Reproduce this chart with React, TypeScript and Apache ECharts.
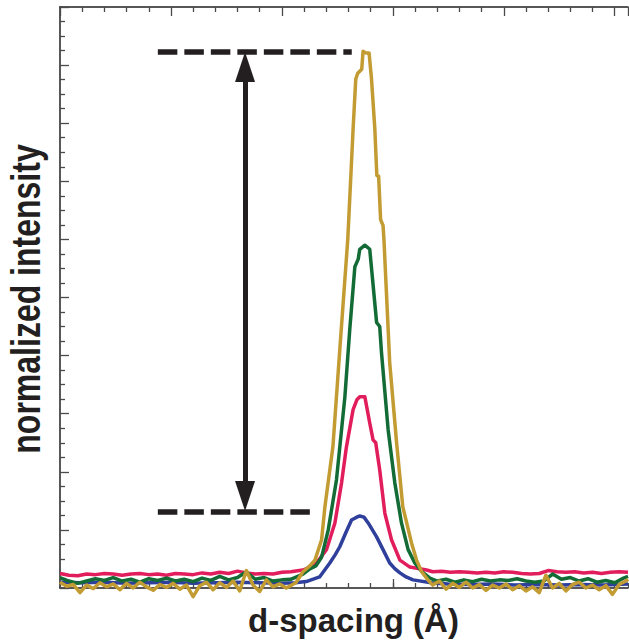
import React, { useEffect, useRef } from 'react';
import * as echarts from 'echarts';

const X_MIN = 0;
const X_MAX = 256;
const Y_MIN = 0;
const Y_MAX = 10;

const bottomLongTicks = [150, 220];

const blueData: number[][] = [
  [0, 0.1], [10, 0.09], [20, 0.1], [30, 0.08], [40, 0.09], [50, 0.1], [60, 0.08], [70, 0.09],
  [80, 0.1], [90, 0.09], [100, 0.08], [106, 0.09], [111, 0.11], [117, 0.19], [121.6, 0.43],
  [124, 0.57], [126.1, 0.71], [128.8, 0.95], [131.4, 1.17], [133.3, 1.21], [135.1, 1.24],
  [137, 1.22], [138.9, 1.12], [140.8, 1.0], [142.7, 0.88], [145.6, 0.66], [148.6, 0.43],
  [151, 0.33], [153.2, 0.26], [156, 0.19], [159.1, 0.14], [168, 0.086], [175, 0.07],
  [185, 0.06], [195, 0.07], [205, 0.05], [215, 0.06], [225, 0.05], [235, 0.06], [245, 0.05],
  [256, 0.07],
];

const redData: number[][] = [
  [0, 0.25], [4, 0.22], [8, 0.21], [12, 0.24], [16, 0.23], [20, 0.25], [24, 0.24], [28, 0.22],
  [32, 0.24], [36, 0.25], [40, 0.23], [44, 0.24], [48, 0.22], [52, 0.25], [56, 0.24], [60, 0.23],
  [64, 0.26], [68, 0.24], [72, 0.27], [76, 0.25], [80, 0.29], [84, 0.26], [88, 0.24], [92, 0.25],
  [96, 0.24], [100, 0.27], [104, 0.28], [109.5, 0.31], [112.6, 0.36], [115.6, 0.43],
  [120.1, 0.66], [123.9, 1.12], [126.9, 1.81], [129.1, 2.43], [132.1, 3.07], [133.8, 3.24],
  [135.1, 3.29], [137.4, 3.29], [139.6, 2.84], [141.1, 2.55], [142.3, 2.5], [144.1, 2.03],
  [146.4, 1.29], [149.4, 0.83], [153.2, 0.48], [157.7, 0.36], [165.2, 0.31], [168, 0.28],
  [172, 0.29], [176, 0.27], [180, 0.28], [184, 0.27], [188, 0.26], [192, 0.27], [196, 0.26],
  [200, 0.28], [204, 0.27], [208, 0.25], [212, 0.24], [216, 0.25], [220, 0.3], [224, 0.28],
  [228, 0.27], [232, 0.28], [236, 0.26], [240, 0.27], [244, 0.25], [248, 0.27], [252, 0.28],
  [256, 0.27],
];

const greenData: number[][] = [
  [0, 0.18], [4, 0.12], [8, 0.08], [12, 0.12], [16, 0.16], [20, 0.13], [24, 0.18], [28, 0.12],
  [32, 0.15], [36, 0.1], [40, 0.16], [44, 0.13], [48, 0.17], [52, 0.12], [56, 0.15], [60, 0.11],
  [64, 0.17], [68, 0.13], [72, 0.2], [76, 0.14], [80, 0.18], [84, 0.28], [88, 0.15], [92, 0.18],
  [96, 0.12], [100, 0.14], [104, 0.15], [109.5, 0.24], [112.6, 0.33], [115.3, 0.38],
  [117.9, 0.53], [120.9, 1.0], [124.6, 1.86], [128.4, 3.29], [130.6, 4.45], [132.9, 5.53],
  [134.4, 5.66], [135.1, 5.83], [137.4, 5.9], [139.6, 5.83], [142.7, 4.57], [144.1, 4.5],
  [144.9, 4.05], [147.9, 2.72], [150.9, 1.81], [153.9, 1.12], [156.9, 0.66], [159.9, 0.43],
  [163.1, 0.28], [166.7, 0.17], [170, 0.12], [174, 0.15], [178, 0.1], [182, 0.14], [186, 0.11],
  [190, 0.15], [194, 0.12], [198, 0.14], [202, 0.13], [206, 0.16], [210, 0.12], [214, 0.1],
  [218, 0.12], [222, 0.24], [226, 0.15], [230, 0.18], [234, 0.12], [238, 0.16], [242, 0.1],
  [246, 0.13], [250, 0.09], [254, 0.17], [256, 0.2],
];

const goldData: number[][] = [
  [0, 0.1], [3, 0.03], [6, 0.06], [9, -0.08], [12, 0.05], [15, -0.01], [18, 0.09], [21, 0.02],
  [24, 0.07], [27, -0.03], [30, 0.08], [33, 0.0], [36, 0.1], [39, 0.02], [42, -0.04], [45, 0.06],
  [48, 0.01], [51, 0.08], [54, -0.02], [57, 0.05], [60, -0.15], [63, 0.04], [66, 0.1], [69, -0.03],
  [72, 0.09], [75, 0.01], [78, 0.12], [81, -0.05], [84, 0.3], [87, 0.05], [90, -0.06], [93, 0.14],
  [96, 0.02], [99, 0.07], [102, 0.0], [106.3, 0.09], [109.5, 0.28], [112.6, 0.38], [114.9, 0.48],
  [117.9, 0.83], [119.4, 1.4], [123.0, 2.43], [126.1, 4.1], [129.7, 6.0], [132.1, 7.9],
  [133.3, 8.76], [134.2, 8.86], [136.0, 8.93], [136.6, 9.24], [137.8, 9.21], [139.3, 9.21],
  [140.4, 8.76], [141.9, 7.9], [142.8, 7.1], [143.6, 7.09], [144.5, 6.34], [145.6, 6.24],
  [146.0, 6.0], [148.6, 3.88], [151.7, 2.5], [154.5, 1.4], [158.4, 0.78], [160.7, 0.48],
  [163.0, 0.28], [165.8, 0.14], [168, 0.05], [171, 0.12], [174, -0.02], [177, 0.08], [180, 0.01],
  [183, 0.1], [186, 0.0], [189, 0.06], [192, -0.04], [195, 0.05], [198, 0.0], [201, 0.07],
  [204, -0.03], [207, 0.04], [210, -0.05], [213, 0.02], [216, -0.08], [219, 0.22], [222, 0.0],
  [225, 0.08], [228, -0.05], [231, 0.06], [234, 0.1], [237, 0.0], [240, 0.05], [243, -0.03],
  [246, 0.04], [249, -0.11], [252, 0.06], [255, 0.12], [256, 0.15],
];

// annotation values (data units)
const topLevel = 9.225;
const bottomLevel = 1.317;
const dashStart = 44.1;
const topDashEnd = 131.5;
const bottomDashEnd = 112.6;
const arrowX = 83.4;
const arrowTopCenter = 8.967;
const arrowBottomCenter = 1.583;

const INK = '#231f20';
const TICK = '#4a4a4a';

export default function App() {
  const ref = useRef<HTMLDivElement>(null);
  useEffect(() => {
    const chart = echarts.init(ref.current!, null, { renderer: 'svg' });
    const axisLine = { show: true, onZero: false, lineStyle: { color: INK, width: 1.5 } };
    const tickStyle = { color: TICK, width: 1.3 };
    const lineSeries = (name: string, data: number[][], color: string, extra: any = {}) => ({
      name,
      type: 'line',
      data,
      xAxisIndex: 0,
      yAxisIndex: 0,
      showSymbol: false,
      symbol: 'none',
      clip: false,
      silent: true,
      lineStyle: { color, width: 3.5, join: 'round' },
      ...extra,
    });
    const dashStyle = { color: INK, width: 5.5, type: [19.5, 7], cap: 'butt' };
    chart.setOption({
      animation: false,
      grid: { left: 60, right: 1, top: 7, bottom: 53, containLabel: false },
      xAxis: [
        {
          type: 'value', position: 'bottom', min: X_MIN, max: X_MAX, interval: 10,
          axisLine, axisTick: { show: true, inside: true, length: 5, lineStyle: tickStyle },
          axisLabel: { show: false }, splitLine: { show: false },
        },
        {
          type: 'value', position: 'top', min: X_MIN, max: X_MAX, interval: 50,
          axisLine, axisTick: { show: true, inside: true, length: 9, lineStyle: tickStyle },
          minorTick: { show: true, splitNumber: 5, length: 5, lineStyle: tickStyle },
          axisLabel: { show: false }, splitLine: { show: false }, minorSplitLine: { show: false },
        },
        {
          type: 'value', position: 'bottom', min: X_MIN, max: X_MAX,
          axisLine: { show: false, onZero: false },
          axisTick: { show: true, inside: true, length: 9, lineStyle: tickStyle, customValues: bottomLongTicks },
          axisLabel: { show: false, customValues: bottomLongTicks }, splitLine: { show: false },
        },
      ],
      yAxis: [
        {
          type: 'value', position: 'left', min: Y_MIN, max: Y_MAX, interval: 1,
          axisLine, axisTick: { show: true, inside: true, length: 9, lineStyle: tickStyle },
          minorTick: { show: true, splitNumber: 4, length: 5, lineStyle: tickStyle },
          axisLabel: { show: false }, splitLine: { show: false }, minorSplitLine: { show: false },
        },
      ],
      series: [
        lineSeries('blue', blueData, '#2f3f9c'),
        lineSeries('red', redData, '#e11d5c'),
        lineSeries('green', greenData, '#136b36'),
        lineSeries('gold', goldData, '#c29c32', {
          markLine: {
            silent: true,
            symbol: 'none',
            label: { show: false },
            emphasis: { disabled: true },
            data: [
              [
                { coord: [dashStart, topLevel], lineStyle: dashStyle },
                { coord: [topDashEnd, topLevel] },
              ],
              [
                { coord: [dashStart, bottomLevel], lineStyle: dashStyle },
                { coord: [bottomDashEnd, bottomLevel] },
              ],
              [
                {
                  coord: [arrowX, arrowBottomCenter], symbol: 'triangle', symbolSize: [20, 30],
                  lineStyle: { color: INK, width: 5, type: 'solid' },
                },
                { coord: [arrowX, arrowTopCenter], symbol: 'triangle', symbolSize: [20, 30] },
              ],
            ],
            itemStyle: { color: INK },
          },
        }),
      ],
      graphic: [
        {
          type: 'text', x: 26, y: 299, rotation: Math.PI / 2, scaleX: 0.8, silent: true,
          style: {
            text: 'normalized intensity', fill: INK, align: 'center', verticalAlign: 'middle',
            font: 'bold 40px "Liberation Sans", Arial, sans-serif',
          },
        },
        {
          type: 'text', x: 353.5, y: 620.5, silent: true,
          style: {
            text: 'd-spacing (Å)', fill: INK, align: 'center', verticalAlign: 'middle',
            font: 'bold 33px "Liberation Sans", Arial, sans-serif',
          },
        },
      ],
    });
    return () => chart.dispose();
  }, []);
  return (
    <div
      ref={ref}
      style={{ position: 'absolute', left: 0, top: 0, width: 629, height: 641 }}
    />
  );
}
